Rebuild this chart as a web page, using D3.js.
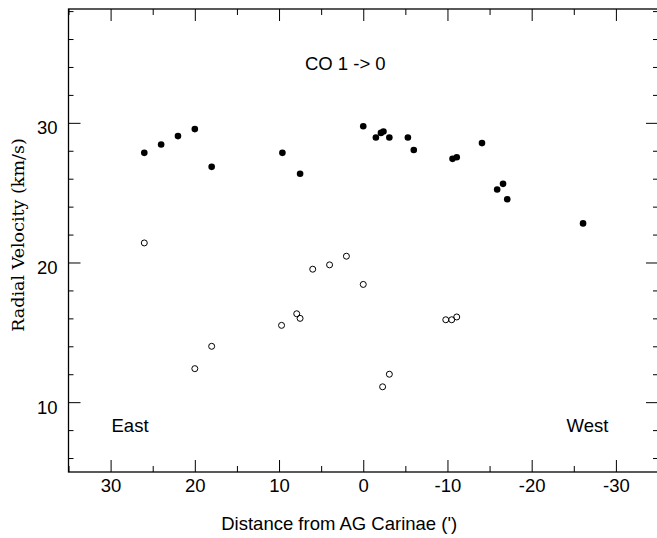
<!DOCTYPE html>
<html><head><meta charset="utf-8">
<script src="https://cdn.jsdelivr.net/npm/d3@7"></script>
<style>body{margin:0;background:#fff}svg{display:block}</style>
</head><body>
<svg id="c" width="657" height="538"></svg>
<script>
// Filled: higher-velocity component
const filledX = [26, 24, 22, 20, 18, 9.6, 7.5, 0, -1.5, -2.1, -2.4, -3.1, -5.3, -6.0, -10.6, -11.1, -14.1, -15.9, -16.6, -17.1, -26.1];
const filledY = [27.85, 28.45, 29.05, 29.55, 26.85, 27.85, 26.35, 29.75, 28.95, 29.28, 29.38, 28.95, 28.95, 28.05, 27.42, 27.54, 28.55, 25.23, 25.63, 24.53, 22.8];
// Open: lower-velocity component
const openX = [26, 18, 20, 9.7, 7.9, 7.5, 6.0, 4.0, 2.0, 0, -3.1, -2.3, -9.8, -10.5, -11.1];
const openY = [21.4, 14.0, 12.4, 15.5, 16.33, 16.0, 19.52, 19.83, 20.45, 18.43, 12.0, 11.1, 15.9, 15.9, 16.1];
const xMajor = [30, 20, 10, 0, -10, -20, -30];
const xMinor = [35, 25, 15, 5, -5, -15, -25, -35];
const yMajor = [10, 20, 30];
const yMinor = [6, 8, 12, 14, 16, 18, 22, 24, 26, 28, 32, 34, 36, 38];

const svg = d3.select("#c");
const L = 68.5, R = 658, T = 9, B = 472;
const x = d3.scaleLinear().domain([35, -35]).range([L, R]);
const y = d3.scaleLinear().domain([5, 38.15]).range([B, T]);
const font = "'Liberation Sans', Arial, sans-serif";
const FS = 18.5;

function ax(gen, tr, vals, size, labels, pad) {
  const g = svg.append("g").attr("transform", tr)
    .call(gen.tickValues(vals).tickSize(size).tickPadding(pad || 3)
      .tickFormat(labels ? (d) => String(d) : () => ""));
  g.select(".domain").remove();
  g.selectAll(".tick line").attr("stroke", "#000").attr("stroke-width", 1);
  g.selectAll("text").attr("font-family", font).attr("font-size", FS).attr("fill", "#000");
  return g;
}
ax(d3.axisBottom(x), `translate(0,${B})`, xMajor, -12, true, 6.6);
ax(d3.axisBottom(x), `translate(0,${B})`, xMinor, -6, false);
ax(d3.axisTop(x), `translate(0,${T})`, xMajor, -12, false);
ax(d3.axisTop(x), `translate(0,${T})`, xMinor, -6, false);
ax(d3.axisLeft(y), `translate(${L},0)`, yMajor, -12, true, 11).selectAll("text").attr("dy", "11px");
ax(d3.axisLeft(y), `translate(${L},0)`, yMinor, -5, false);
ax(d3.axisRight(y), `translate(${R},0)`, yMajor, -12, false);
ax(d3.axisRight(y), `translate(${R},0)`, yMinor, -5, false);

svg.append("rect").attr("x", L).attr("y", T).attr("width", R - L).attr("height", B - T)
  .attr("fill", "none").attr("stroke", "#000").attr("stroke-width", 1.3);

svg.append("g").selectAll("circle").data(filledX).join("circle")
  .attr("cx", (d) => x(d)).attr("cy", (d, i) => y(filledY[i])).attr("r", 3.3).attr("fill", "#000");
svg.append("g").selectAll("circle").data(openX).join("circle")
  .attr("cx", (d) => x(d)).attr("cy", (d, i) => y(openY[i])).attr("r", 3)
  .attr("fill", "none").attr("stroke", "#000").attr("stroke-width", 1);

svg.append("text").attr("x", 345.3).attr("y", 70).attr("text-anchor", "middle")
  .attr("font-family", font).attr("font-size", FS).text("CO 1 -> 0");
svg.append("text").attr("x", 111.5).attr("y", 431.5).attr("font-family", font).attr("font-size", FS).text("East");
svg.append("text").attr("x", 566.5).attr("y", 431.5).attr("font-family", font).attr("font-size", FS).text("West");
svg.append("text").attr("x", 339.2).attr("y", 530).attr("text-anchor", "middle")
  .attr("font-family", font).attr("font-size", FS).text("Distance from AG Carinae (')");
svg.append("text").attr("transform", "translate(23.5,235) rotate(-90)").attr("text-anchor", "middle")
  .attr("font-family", "'DejaVu Serif', serif").attr("font-size", 17.5).text("Radial Velocity (km/s)");
</script>
</body></html>
